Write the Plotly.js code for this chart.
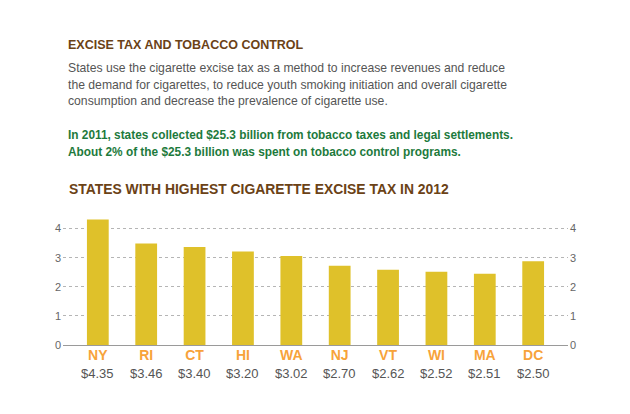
<!DOCTYPE html>
<html><head><meta charset="utf-8">
<script src="https://cdn.plot.ly/plotly-3.0.1.min.js"></script>
<style>html,body{margin:0;padding:0;background:#fff;}#chart{width:630px;height:414px;}</style>
</head><body><div id="chart"></div>
<script>
const states = ["NY","RI","CT","HI","WA","NJ","VT","WI","MA","DC"];
const barValues = [4.31, 3.49, 3.37, 3.21, 3.06, 2.72, 2.59, 2.52, 2.45, 2.88];
const priceLabels = ["$4.35","$3.46","$3.40","$3.20","$3.02","$2.70","$2.62","$2.52","$2.51","$2.50"];
const yTicks = [0, 1, 2, 3, 4];

const W = 630, H = 414;
const L = 63, R = 568, T = 216.7, B = 345;
const px = x => (x - L) / (R - L);
const py = y => (B - y) / (B - T);
const font = "Liberation Sans, Arial, Helvetica, sans-serif";
const idx = states.map((s, i) => i);

const brown = "#6b4216", green = "#1d7a3c", gray = "#555555";
const body = [
  "States use the cigarette excise tax as a method to increase revenues and reduce",
  "the demand for cigarettes, to reduce youth smoking initiation and overall cigarette",
  "consumption and decrease the prevalence of cigarette use."
];
const greenLines = [
  "In 2011, states collected $25.3 billion from tobacco taxes and legal settlements.",
  "About 2% of the $25.3 billion was spent on tobacco control programs."
];

const ann = [];
function txt(t, x, y, size, color, bold) {
  ann.push({text: bold ? "<b>" + t + "</b>" : t, xref: "paper", yref: "paper",
    x: px(x), y: py(y), xanchor: "left", yanchor: "middle", showarrow: false,
    font: {family: font, size: size, color: color}});
}
txt("EXCISE TAX AND TOBACCO CONTROL", 66, 44, 12.5, brown, true);
body.forEach((l, i) => txt(l, 66, 67.3 + i * 16.8, 12.2, gray, false));
greenLines.forEach((l, i) => txt(l, 66, 134.3 + i * 16.8, 11.85, green, true));
txt("STATES WITH HIGHEST CIGARETTE EXCISE TAX IN 2012", 67, 188.3, 13.9, brown, true);

priceLabels.forEach((p, i) => ann.push({text: p, xref: "x", yref: "paper", x: i, y: py(374),
  xanchor: "center", yanchor: "middle", showarrow: false,
  font: {family: font, size: 13, color: gray}}));

const data = [
  {type: "bar", x: idx, y: barValues, marker: {color: "#dfc12a"}, width: 0.45, hoverinfo: "skip"},
  {type: "scatter", x: [null], y: [null], yaxis: "y2", mode: "markers", hoverinfo: "skip"}
];

const layout = {
  width: W, height: H, showlegend: false,
  paper_bgcolor: "#fff", plot_bgcolor: "#fff",
  margin: {l: L, r: W - R, t: T, b: H - B, pad: 0},
  xaxis: {range: [-0.72, 9.72], tickmode: "array", tickvals: idx,
    ticktext: states.map(s => "<b>" + s + "</b>"), showgrid: false, zeroline: false,
    showline: false, ticks: "", tickfont: {family: font, size: 14, color: "#f7a33a"}, fixedrange: true},
  yaxis: {range: [0, 4.4], tickvals: yTicks, showgrid: true, gridcolor: "#b5b5b5", griddash: "3px,3px",
    zeroline: true, zerolinecolor: "#9a9a9a", zerolinewidth: 1, showline: false, ticks: "",
    ticklabelstandoff: 1, tickfont: {family: font, size: 11, color: "#666"}, fixedrange: true},
  yaxis2: {range: [0, 4.4], tickvals: yTicks, overlaying: "y", side: "right", showgrid: false,
    zeroline: false, showline: false, ticks: "", ticklabelstandoff: 1,
    tickfont: {family: font, size: 11, color: "#666"}, fixedrange: true},
  annotations: ann
};
Plotly.newPlot("chart", data, layout, {displayModeBar: false, staticPlot: true});
</script></body></html>
